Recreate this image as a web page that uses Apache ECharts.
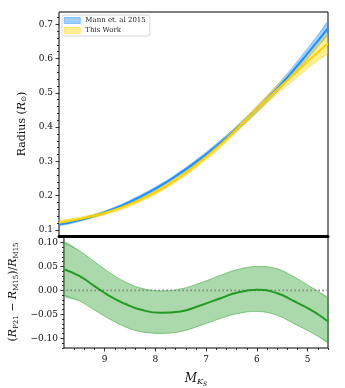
<!DOCTYPE html>
<html>
<head>
<meta charset="utf-8">
<script src="https://cdn.jsdelivr.net/npm/echarts@6/dist/echarts.min.js"></script>
<style>
  html, body { margin: 0; padding: 0; background: #fff; }
  #chart { width: 345px; height: 388px; }
</style>
</head>
<body>
<div id="chart"></div>
<script>
// M_Ks grid (x)
var mk = [9.8, 9.5, 9.2, 8.9, 8.6, 8.3, 7.9, 7.5, 7.1, 6.7, 6.4, 6.0, 5.6, 5.3, 5.0, 4.8, 4.6];

// Mann et. al 2015 radius band
var mannMid = [0.116, 0.125, 0.137, 0.152, 0.170, 0.191, 0.223, 0.261, 0.304, 0.352, 0.391, 0.448, 0.510, 0.560, 0.614, 0.651, 0.689];
var mannLo  = [0.112, 0.121, 0.133, 0.148, 0.166, 0.186, 0.218, 0.256, 0.298, 0.345, 0.384, 0.440, 0.500, 0.548, 0.599, 0.634, 0.670];
var mannHi  = [0.120, 0.129, 0.141, 0.156, 0.174, 0.196, 0.228, 0.266, 0.310, 0.359, 0.398, 0.456, 0.520, 0.572, 0.629, 0.668, 0.708];

// This Work radius band
var workMid = [0.121, 0.129, 0.138, 0.150, 0.165, 0.183, 0.213, 0.250, 0.295, 0.346, 0.389, 0.448, 0.507, 0.548, 0.591, 0.618, 0.644];
var workLo  = [0.115, 0.124, 0.133, 0.145, 0.159, 0.177, 0.206, 0.243, 0.287, 0.337, 0.380, 0.438, 0.494, 0.532, 0.570, 0.594, 0.616];
var workHi  = [0.127, 0.134, 0.143, 0.155, 0.171, 0.189, 0.220, 0.257, 0.303, 0.355, 0.398, 0.458, 0.520, 0.564, 0.612, 0.642, 0.672];

// relative difference (R_P21 - R_M15)/R_M15
var diffMid = [0.044, 0.030, 0.009, -0.012, -0.028, -0.040, -0.047, -0.044, -0.031, -0.016, -0.005, 0.001, -0.006, -0.021, -0.037, -0.050, -0.065];
var diffLo  = [-0.010, -0.022, -0.041, -0.060, -0.076, -0.086, -0.090, -0.086, -0.073, -0.058, -0.049, -0.044, -0.052, -0.068, -0.084, -0.096, -0.108];
var diffHi  = [0.099, 0.083, 0.060, 0.037, 0.018, 0.005, -0.001, 0.003, 0.016, 0.032, 0.043, 0.050, 0.045, 0.030, 0.011, -0.002, -0.017];

// ticks
var xMajor = [5, 6, 7, 8, 9];
var xMinor = [4.6, 4.8, 5.2, 5.4, 5.6, 5.8, 6.2, 6.4, 6.6, 6.8, 7.2, 7.4, 7.6, 7.8, 8.2, 8.4, 8.6, 8.8, 9.2, 9.4, 9.6];
var yTopMajor = [0.1, 0.2, 0.3, 0.4, 0.5, 0.6, 0.7];
var yTopMinor = [0.12, 0.14, 0.16, 0.18, 0.22, 0.24, 0.26, 0.28, 0.32, 0.34, 0.36, 0.38, 0.42, 0.44, 0.46, 0.48,
                 0.52, 0.54, 0.56, 0.58, 0.62, 0.64, 0.66, 0.68, 0.72];
var yBotMajor = [-0.10, -0.05, 0.00, 0.05, 0.10];
var yBotMinor = [-0.12, -0.11, -0.09, -0.08, -0.07, -0.06, -0.04, -0.03, -0.02, -0.01,
                 0.01, 0.02, 0.03, 0.04, 0.06, 0.07, 0.08, 0.09, 0.11];

var XMIN = 4.6, XMAX = 9.8;
var SERIF = 'DejaVu Serif';
var SMOOTH = 0.4;

function pairs(ys) {
  return mk.map(function (m, i) { return [m, ys[i]]; });
}
function minus(s) { return s.replace('-', '\u2212'); }

// shaded band between lo and hi, with thin edges
function band(name, lo, hi, fill, edge, xi, yi) {
  return {
    name: name, type: 'custom', xAxisIndex: xi, yAxisIndex: yi, clip: true, silent: true, z: 2,
    itemStyle: { color: fill },
    data: [0],
    renderItem: function (params, api) {
      var up = mk.map(function (m, i) { return api.coord([m, hi[i]]); });
      var dn = mk.map(function (m, i) { return api.coord([m, lo[i]]); });
      return {
        type: 'group',
        children: [
          { type: 'polygon', shape: { points: up.concat(dn.slice().reverse()), smooth: SMOOTH }, style: { fill: fill, stroke: null } },
          { type: 'polyline', shape: { points: up, smooth: SMOOTH }, style: { fill: null, stroke: edge, lineWidth: 0.7 } },
          { type: 'polyline', shape: { points: dn, smooth: SMOOTH }, style: { fill: null, stroke: edge, lineWidth: 0.7 } }
        ]
      };
    }
  };
}

var series = [
  band('Mann et. al 2015', mannLo, mannHi, 'rgba(30,144,255,0.42)', 'rgba(30,144,255,0.6)', 0, 0),
  band('This Work', workLo, workHi, 'rgba(255,215,0,0.42)', 'rgba(255,205,0,0.6)', 0, 0),
  {
    name: 'mannLine', type: 'line', data: pairs(mannMid), smooth: true, xAxisIndex: 0, yAxisIndex: 0,
    symbol: 'none', lineStyle: { color: '#1e90ff', width: 2 }, z: 4
  },
  {
    name: 'workLine', type: 'line', data: pairs(workMid), smooth: true, xAxisIndex: 0, yAxisIndex: 0,
    symbol: 'none', lineStyle: { color: '#ffd000', width: 2 }, z: 4
  },
  band('diffBand', diffLo, diffHi, 'rgba(44,160,44,0.4)', 'rgba(44,160,44,0.75)', 1, 2),
  {
    name: 'zero', type: 'line', data: [[XMIN, 0], [XMAX, 0]], xAxisIndex: 1, yAxisIndex: 2,
    symbol: 'none', lineStyle: { color: '#888', width: 1.6, type: [1.6, 2.4] }, z: 3
  },
  {
    name: 'diffLine', type: 'line', data: pairs(diffMid), smooth: true, xAxisIndex: 1, yAxisIndex: 2,
    symbol: 'none', lineStyle: { color: '#239a23', width: 2 }, z: 4
  }
];

var tickStyle = { color: '#000', width: 0.8 };
var labelStyle = { fontFamily: SERIF, fontSize: 9, color: '#111' };

var option = {
  animation: false,
  backgroundColor: '#fff',
  grid: [
    { left: 59, right: 17, top: 12, height: 224, show: true, borderColor: '#000', borderWidth: 1 },
    { left: 59, right: 17, top: 236, height: 113.3, show: true, borderColor: '#000', borderWidth: 1 }
  ],
  legend: {
    left: 62, top: 15, orient: 'vertical', icon: 'rect',
    itemWidth: 16, itemHeight: 6, itemGap: 3,
    padding: [2, 4, 2, 2], backgroundColor: '#fff', borderColor: '#ccc', borderWidth: 0.8, borderRadius: 2,
    textStyle: { fontFamily: SERIF, fontSize: 7, color: '#222' },
    data: [
      { name: 'Mann et. al 2015', itemStyle: { color: 'rgba(30,144,255,0.42)', borderColor: 'rgba(30,144,255,0.7)', borderWidth: 0.6 } },
      { name: 'This Work', itemStyle: { color: 'rgba(255,215,0,0.42)', borderColor: 'rgba(255,205,0,0.7)', borderWidth: 0.6 } }
    ]
  },
  xAxis: [
    {
      gridIndex: 0, type: 'value', min: XMIN, max: XMAX, inverse: true,
      axisLine: { show: true, onZero: false, lineStyle: { color: '#000', width: 3 } },
      axisTick: { show: false }, axisLabel: { show: false }, splitLine: { show: false }
    },
    {
      gridIndex: 1, type: 'value', min: XMIN, max: XMAX, inverse: true, position: 'bottom',
      axisLine: { show: false, onZero: false },
      axisTick: { show: true, customValues: xMajor, length: 3.5, lineStyle: tickStyle },
      axisLabel: Object.assign({ customValues: xMajor, margin: 7, formatter: function (v) { return String(v); } }, labelStyle),
      splitLine: { show: false },
      name: '{i|M}{s|K}{ss|S}', nameLocation: 'middle', nameGap: 23,
      nameTextStyle: {
        rich: {
          i: { fontFamily: SERIF, fontStyle: 'italic', fontSize: 12, color: '#111' },
          s: { fontFamily: SERIF, fontStyle: 'italic', fontSize: 8, color: '#111', padding: [6, 0, 0, 0] },
          ss: { fontFamily: SERIF, fontStyle: 'italic', fontSize: 6, color: '#111', padding: [10, 0, 0, 0] }
        }
      }
    },
    {
      gridIndex: 1, type: 'value', min: XMIN, max: XMAX, inverse: true, position: 'bottom',
      axisLine: { show: false, onZero: false },
      axisTick: { show: true, customValues: xMinor, length: 2, lineStyle: tickStyle },
      axisLabel: { show: false }, splitLine: { show: false }
    }
  ],
  yAxis: [
    {
      gridIndex: 0, type: 'value', min: 0.082, max: 0.736, position: 'left',
      axisLine: { show: false, onZero: false },
      axisTick: { show: true, customValues: yTopMajor, length: 3.5, lineStyle: tickStyle },
      axisLabel: Object.assign({ customValues: yTopMajor, margin: 6, formatter: function (v) { return v.toFixed(1); } }, labelStyle),
      splitLine: { show: false },
      name: 'Radius ({i|R}{s|\u2299})', nameLocation: 'middle', nameGap: 30,
      nameTextStyle: {
        fontFamily: SERIF, fontSize: 11, color: '#111',
        rich: {
          i: { fontFamily: SERIF, fontStyle: 'italic', fontSize: 11, color: '#111' },
          s: { fontFamily: 'DejaVu Sans', fontSize: 7, color: '#111', padding: [5, 0, 0, 0] }
        }
      }
    },
    {
      gridIndex: 0, type: 'value', min: 0.082, max: 0.736, position: 'left',
      axisLine: { show: false, onZero: false },
      axisTick: { show: true, customValues: yTopMinor, length: 2, lineStyle: tickStyle },
      axisLabel: { show: false }, splitLine: { show: false }
    },
    {
      gridIndex: 1, type: 'value', min: -0.1205, max: 0.1136, position: 'left',
      axisLine: { show: false, onZero: false },
      axisTick: { show: true, customValues: yBotMajor, length: 3.5, lineStyle: tickStyle },
      axisLabel: Object.assign({ customValues: yBotMajor, margin: 6, formatter: function (v) { return minus(v.toFixed(2)); } }, labelStyle),
      splitLine: { show: false },
      name: '({i|R}{s|P21} \u2212 {i|R}{s|M15})/{i|R}{s|M15}', nameLocation: 'middle', nameGap: 41,
      nameTextStyle: {
        fontFamily: SERIF, fontSize: 11, color: '#111',
        rich: {
          i: { fontFamily: SERIF, fontStyle: 'italic', fontSize: 11, color: '#111' },
          s: { fontFamily: SERIF, fontSize: 7, color: '#111', padding: [5, 0, 0, 0] }
        }
      }
    },
    {
      gridIndex: 1, type: 'value', min: -0.1205, max: 0.1136, position: 'left',
      axisLine: { show: false, onZero: false },
      axisTick: { show: true, customValues: yBotMinor, length: 2, lineStyle: tickStyle },
      axisLabel: { show: false }, splitLine: { show: false }
    }
  ],
  series: series
};

var chart = echarts.init(document.getElementById('chart'), null, { renderer: 'canvas' });
chart.setOption(option);
</script>
</body>
</html>
